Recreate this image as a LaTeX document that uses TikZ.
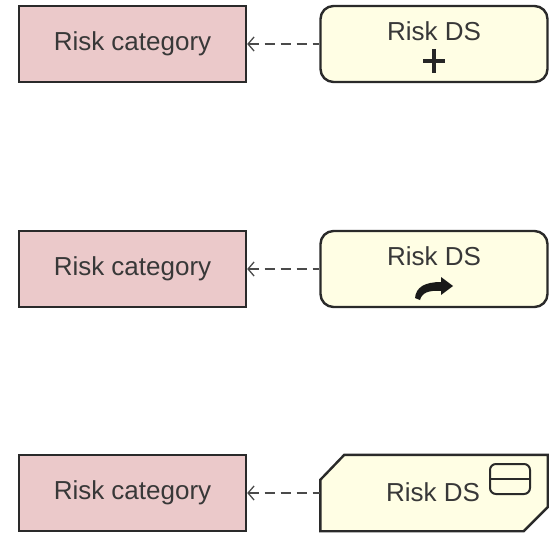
\documentclass[tikz,border=0pt]{standalone}
\usepackage{fontspec}
\setmainfont{Liberation Sans}
\usetikzlibrary{arrows.meta,calc}
\definecolor{catfill}{HTML}{EBC9CA}
\definecolor{dsfill}{HTML}{FFFEE4}
\definecolor{bordercol}{HTML}{2A2A2A}
\definecolor{txt}{HTML}{383838}
\definecolor{linkcol}{HTML}{4A4A4A}
\tikzset{
  lbl/.style={text=txt, font=\fontsize{26}{30}\selectfont, inner sep=0pt},
  catbox/.style={draw=bordercol, line width=2.4pt, fill=catfill, minimum width=227pt, minimum height=76pt, inner sep=0pt, lbl},
  dsbox/.style={draw=bordercol, line width=2.4pt, fill=dsfill, minimum width=227pt, minimum height=76pt, inner sep=0pt, rounded corners=13pt},
  dsframe/.style={draw=none, minimum width=227pt, minimum height=76pt, inner sep=0pt},
  dsoutline/.style={draw=bordercol, line width=2.4pt, fill=dsfill, line join=miter},
  link/.style={draw=linkcol, line width=2.6pt, dash pattern=on 10pt off 6pt,
     {Straight Barb[length=6pt,width=14pt,line width=1.3pt]}-},
  iconline/.style={draw=bordercol, line width=2pt}
}
\begin{document}
\begin{tikzpicture}[x=1pt,y=-1pt]
\useasboundingbox (0,0) rectangle (553,532);
% row 1
\node[catbox] (c1) at (132.5,44) {Risk category};
\node[dsbox] (d1) at (434,44) {};
\node[lbl, anchor=base] (t1) at (434,41) {Risk DS};
\draw[line width=3.6pt, draw=black!85] (423,61) -- (445,61) (434,49) -- (434,73);
\draw[link] (c1.east) -- (d1.west);
% row 2
\node[catbox] (c2) at (132.5,269) {Risk category};
\node[dsbox] (d2) at (434,269) {};
\node[lbl, anchor=base] (t2) at (434,265) {Risk DS};
\fill[black!90] (441,277) -- (453,286) -- (441,295) -- (441,291)
   .. controls (428,290) and (422,293) .. (420,300) -- (415,298)
   .. controls (416,287) and (425,282) .. (441,282) -- cycle;
\draw[link] (c2.east) -- (d2.west);
% row 3
\node[catbox] (c3) at (132.5,493) {Risk category};
\node[dsframe] (d3) at (434,493) {};
\draw[dsoutline] ($(d3.north west)+(0,25)$) -- ($(d3.north west)+(24,0)$) -- (d3.north east)
   -- ($(d3.south east)+(0,-24)$) -- ($(d3.south east)+(-24,0)$) -- (d3.south west) -- cycle;
\node[lbl, anchor=base] (t3) at (433,501) {Risk DS};
\draw[iconline, rounded corners=6pt] (490,464) rectangle (530,494);
\draw[iconline] (490,479) -- (530,479);
\draw[link] (c3.east) -- (d3.west);
\end{tikzpicture}
\end{document}
